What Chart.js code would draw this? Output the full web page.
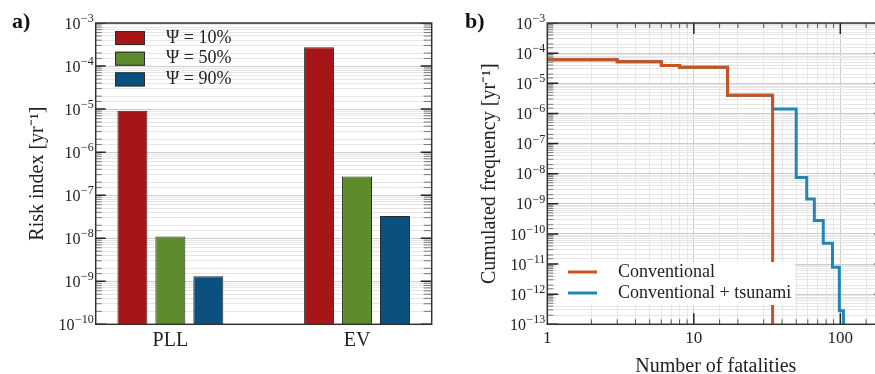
<!DOCTYPE html>
<html>
<head>
<meta charset="utf-8">
<script src="https://cdn.jsdelivr.net/npm/chart.js@4.4.0/dist/chart.umd.min.js"></script>
<style>
  html, body { margin: 0; padding: 0; background: #fff; overflow: hidden; width: 875px; height: 374px; }
  .panel { position: absolute; top: 0; }
  .tag { position: absolute; font: bold 22px "Liberation Serif", serif; color: #111; }
</style>
</head>
<body>
<canvas id="chartA" class="panel" width="440" height="374" style="left:0"></canvas>
<canvas id="chartB" class="panel" width="470" height="374" style="left:440px"></canvas>
<div class="tag" style="left:12px;top:8px">a)</div>
<div class="tag" style="left:465px;top:8px">b)</div>
<script>
// panel a: risk indices
const categories = ['PLL', 'EV'];
const psi10 = [9.1e-6, 2.75e-4];
const psi50 = [1.1e-8, 2.7e-7];
const psi90 = [1.3e-9, 3.3e-8];

// panel b: F-N curves (number of fatalities / cumulated frequency)
const conventionalN = [1, 3, 6, 8, 17, 34.5];
const conventionalF = [6.0e-5, 5.2e-5, 3.9e-5, 3.4e-5, 4.0e-6, 1e-14];
const tsunamiN = [1, 3, 6, 8, 17, 34.5, 50, 59, 66.5, 76.5, 88.5, 98.5, 105];
const tsunamiF = [6.0e-5, 5.2e-5, 3.9e-5, 3.4e-5, 4.0e-6, 1.4e-6, 7.4e-9, 1.45e-9, 2.8e-10, 4.9e-11, 7.8e-12, 2.8e-13, 1e-14];

const serif = '"Liberation Serif", "Times New Roman", serif';
const ink = '#222';

function isDecade(v) {
  const e = Math.log10(v);
  return Math.abs(e - Math.round(e)) < 1e-6;
}

const gridColor = ctx => (ctx.tick && isDecade(ctx.tick.value)) ? '#cccccc' : '#e6e6e6';

// border box, inward tick marks and 10^n labels of the y axis
const framePlugin = {
  id: 'frame',
  afterDraw(chart, args, o) {
    const { ctx, chartArea: a } = chart;
    const y = chart.scales.y;
    ctx.save();
    ctx.beginPath();
    ctx.rect(a.left, a.top, a.right - a.left, a.bottom - a.top);
    ctx.clip();
    y.ticks.forEach(t => {
      const p = y.getPixelForValue(t.value);
      const major = isDecade(t.value);
      ctx.strokeStyle = major ? '#222' : '#777';
      ctx.lineWidth = major ? 1.5 : 1;
      ctx.beginPath();
      const l = major ? o.left[0] : o.left[1];
      ctx.moveTo(a.left, p); ctx.lineTo(a.left + l, p);
      const r = major ? o.right[0] : o.right[1];
      if (r) { ctx.moveTo(a.right, p); ctx.lineTo(a.right - r, p); }
      ctx.stroke();
    });
    if (o.xticks) {
      const x = chart.scales.x;
      x.ticks.forEach(t => {
        const p = x.getPixelForValue(t.value);
        const major = isDecade(t.value);
        const l = major ? o.xticks[0] : o.xticks[1];
        ctx.strokeStyle = major ? '#222' : '#555';
        ctx.lineWidth = major ? 1.5 : 1;
        ctx.beginPath();
        ctx.moveTo(p, a.top); ctx.lineTo(p, a.top + l);
        ctx.moveTo(p, a.bottom); ctx.lineTo(p, a.bottom - l);
        ctx.stroke();
      });
    }
    ctx.restore();

    ctx.save();
    ctx.strokeStyle = '#333';
    ctx.lineWidth = 1.5;
    ctx.strokeRect(a.left, a.top, a.right - a.left, a.bottom - a.top);

    // y labels: "10" with a raised exponent
    ctx.fillStyle = ink;
    ctx.textAlign = 'right';
    y.ticks.filter(t => isDecade(t.value)).forEach(t => {
      const p = y.getPixelForValue(t.value);
      const exp = '−' + Math.abs(Math.round(Math.log10(t.value)));
      const xr = a.left - 2;
      ctx.font = '12px ' + serif;
      ctx.textBaseline = 'alphabetic';
      ctx.fillText(exp, xr, p - 1);
      const w = ctx.measureText(exp).width;
      ctx.font = '16px ' + serif;
      ctx.textBaseline = 'middle';
      ctx.fillText('10', xr - w - 0.5, p + 1.5);
    });
    ctx.restore();
  }
};

// legend drawn inside the plot area
const innerLegend = {
  id: 'innerLegend',
  afterDatasetsDraw(chart, args, o) {
    const ctx = chart.ctx;
    ctx.save();
    if (o.bg) {
      ctx.fillStyle = '#fff';
      ctx.fillRect(o.bg[0], o.bg[1], o.bg[2], o.bg[3]);
    }
    ctx.font = o.font;
    ctx.textBaseline = 'middle';
    chart.data.datasets.forEach((ds, i) => {
      const cy = o.y + i * o.row;
      if (o.kind === 'box') {
        ctx.fillStyle = ds.backgroundColor;
        ctx.fillRect(o.x, cy - 7, 30, 14);
        ctx.strokeStyle = ds.borderColor;
        ctx.lineWidth = 1;
        ctx.strokeRect(o.x + 0.5, cy - 6.5, 29, 13);
      } else {
        ctx.strokeStyle = ds.borderColor;
        ctx.lineWidth = 3;
        ctx.beginPath();
        ctx.moveTo(o.x, cy); ctx.lineTo(o.x + 29, cy);
        ctx.stroke();
      }
      ctx.fillStyle = ink;
      ctx.fillText(ds.label, o.textX, cy);
    });
    ctx.restore();
  }
};

new Chart(document.getElementById('chartA'), {
  type: 'bar',
  data: {
    datasets: [
      { label: 'Ψ = 10%', data: categories.map((c, i) => ({ x: i + 1, y: psi10[i] })), backgroundColor: '#a61518', borderColor: '#2b2b2b', borderWidth: 1 },
      { label: 'Ψ = 50%', data: categories.map((c, i) => ({ x: i + 1, y: psi50[i] })), backgroundColor: '#5e8b2b', borderColor: '#2b2b2b', borderWidth: 1 },
      { label: 'Ψ = 90%', data: categories.map((c, i) => ({ x: i + 1, y: psi90[i] })), backgroundColor: '#0b517f', borderColor: '#2b2b2b', borderWidth: 1 }
    ]
  },
  options: {
    responsive: false,
    animation: false,
    layout: { padding: { left: 22, top: 23, right: 8.3, bottom: 0 } },
    datasets: { bar: { categoryPercentage: 0.61, barPercentage: 0.79 } },
    scales: {
      x: {
        type: 'linear', min: 0.6, max: 2.4, offset: false,
        grid: { display: false, drawTicks: false }, border: { display: false },
        ticks: {
          stepSize: 1, includeBounds: false, autoSkip: false, maxRotation: 0, padding: 4,
          color: ink, font: { family: serif, size: 20 },
          callback: v => categories[v - 1] || ''
        },
        afterFit: s => { s.height = 49.7; }
      },
      y: {
        type: 'logarithmic', min: 1e-10, max: 1e-3,
        grid: { color: gridColor, drawTicks: false }, border: { display: false },
        ticks: { display: false, autoSkip: false },
        title: { display: true, text: 'Risk index [yr⁻¹]', color: ink, font: { family: serif, size: 20 } },
        afterFit: s => { s.width = 73.7; }
      }
    },
    plugins: {
      legend: { display: false },
      tooltip: { enabled: false },
      frame: { left: [10, 6], right: [11, 8] },
      innerLegend: { kind: 'box', x: 115, y: 38, row: 20.7, textX: 166, font: '18px ' + serif }
    }
  },
  plugins: [innerLegend, framePlugin]
});

new Chart(document.getElementById('chartB'), {
  type: 'line',
  data: {
    datasets: [
      { label: 'Conventional', data: conventionalN.map((n, i) => ({ x: n, y: conventionalF[i] })), borderColor: '#c8531e', borderWidth: 3, stepped: true, pointRadius: 0, borderJoinStyle: 'miter', fill: false },
      { label: 'Conventional + tsunami', data: tsunamiN.map((n, i) => ({ x: n, y: tsunamiF[i] })), borderColor: '#1f86b7', borderWidth: 3, stepped: true, pointRadius: 0, borderJoinStyle: 'miter', fill: false }
    ]
  },
  options: {
    responsive: false,
    animation: false,
    layout: { padding: { left: 34, top: 23, right: 25.6, bottom: 0 } },
    scales: {
      x: {
        type: 'logarithmic', min: 1, max: 200,
        grid: { color: gridColor, drawTicks: false }, border: { display: false },
        ticks: { autoSkip: false, maxRotation: 0, padding: 4, color: ink, font: { family: serif, size: 17 }, callback: v => isDecade(v) ? String(v) : '' },
        title: { display: true, text: 'Number of fatalities', color: ink, font: { family: serif, size: 20, lineHeight: 0.7 }, padding: { top: 0, bottom: 0 } },
        afterFit: s => { s.height = 49.7; }
      },
      y: {
        type: 'logarithmic', min: 1e-13, max: 1e-3,
        grid: { color: gridColor, drawTicks: false }, border: { display: false },
        ticks: { display: false, autoSkip: false },
        title: { display: true, text: 'Cumulated frequency [yr⁻¹]', color: ink, font: { family: serif, size: 20 } },
        afterFit: s => { s.width = 73.3; }
      }
    },
    plugins: {
      legend: { display: false },
      tooltip: { enabled: false },
      frame: { left: [11, 6], right: [10, 0], xticks: [11, 5] },
      innerLegend: { kind: 'line', x: 128, y: 272, row: 21, textX: 178, font: '18px ' + serif, bg: [116, 262, 239, 43] }
    }
  },
  plugins: [innerLegend, framePlugin]
});
</script>
</body>
</html>
